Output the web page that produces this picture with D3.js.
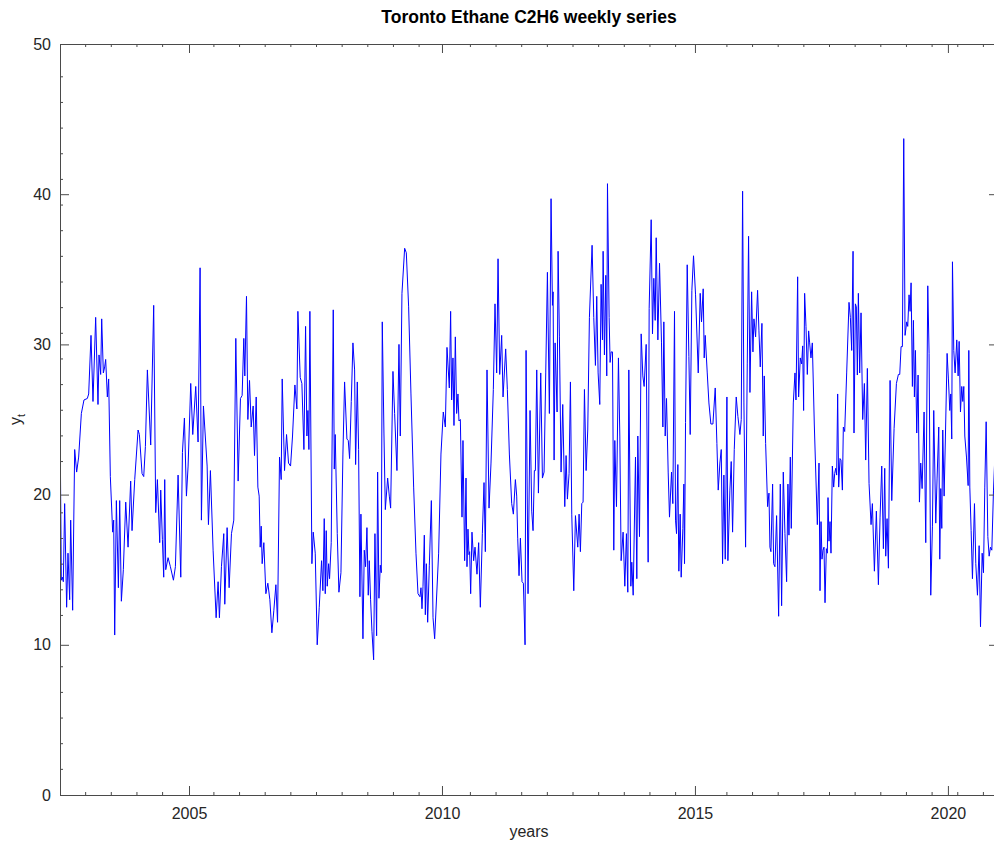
<!DOCTYPE html>
<meta charset="utf-8">
<script src="https://d3js.org/d3.v7.min.js"></script>
<style>
  body { margin: 0; background: #fff; }
  text { font-family: "Liberation Sans", Arial, sans-serif; fill: #262626; }
</style>
<div id="chart"></div>
<script>

// weekly series (decimal year, value)
var years = [
  2002.450, 2002.476, 2002.496, 2002.516, 2002.542, 2002.581, 2002.608, 2002.641, 2002.661, 2002.700,
  2002.740, 2002.779, 2002.819, 2002.872, 2002.924, 2002.990, 2003.017, 2003.063, 2003.102, 2003.155,
  2003.201, 2003.221, 2003.254, 2003.274, 2003.307, 2003.333, 2003.353, 2003.386, 2003.412, 2003.445,
  2003.491, 2003.511, 2003.531, 2003.564, 2003.604, 2003.630, 2003.663, 2003.702, 2003.749, 2003.795,
  2003.847, 2003.874, 2003.927, 2003.993, 2004.019, 2004.072, 2004.105, 2004.138, 2004.177, 2004.243,
  2004.302, 2004.342, 2004.375, 2004.421, 2004.441, 2004.474, 2004.500, 2004.520, 2004.540, 2004.586,
  2004.632, 2004.692, 2004.731, 2004.784, 2004.837, 2004.870, 2004.909, 2004.949, 2004.982, 2005.034,
  2005.074, 2005.133, 2005.179, 2005.219, 2005.245, 2005.285, 2005.358, 2005.384, 2005.423, 2005.476,
  2005.536, 2005.575, 2005.601, 2005.641, 2005.687, 2005.707, 2005.753, 2005.793, 2005.839, 2005.885,
  2005.925, 2005.971, 2006.017, 2006.050, 2006.083, 2006.103, 2006.136,
  2006.163, 2006.196, 2006.229, 2006.268, 2006.295, 2006.328, 2006.361, 2006.387, 2006.407, 2006.427,
  2006.446, 2006.479, 2006.519, 2006.558, 2006.598, 2006.638, 2006.677, 2006.717, 2006.750, 2006.789,
  2006.822, 2006.842, 2006.888, 2006.928, 2006.967, 2007.007, 2007.046, 2007.093, 2007.132, 2007.152,
  2007.198, 2007.231, 2007.271, 2007.304, 2007.330, 2007.350, 2007.370, 2007.389, 2007.429, 2007.455,
  2007.495, 2007.534, 2007.574, 2007.620, 2007.646, 2007.673, 2007.693, 2007.712, 2007.732, 2007.759,
  2007.778, 2007.811, 2007.851, 2007.871, 2007.890, 2007.930, 2007.963, 2008.003, 2008.042, 2008.075,
  2008.121, 2008.148, 2008.174, 2008.207, 2008.240, 2008.273, 2008.293, 2008.326, 2008.352, 2008.378,
  2008.398, 2008.438, 2008.464, 2008.490, 2008.517, 2008.543, 2008.563, 2008.589, 2008.616, 2008.649,
  2008.675, 2008.708, 2008.728, 2008.754, 2008.781, 2008.800, 2008.820, 2008.853, 2008.880, 2008.926,
  2008.959, 2008.985, 2009.031, 2009.064, 2009.110, 2009.150, 2009.176, 2009.209, 2009.262, 2009.295,
  2009.341, 2009.387, 2009.440, 2009.486, 2009.526, 2009.565, 2009.585, 2009.605, 2009.625, 2009.651,
  2009.671, 2009.691, 2009.717, 2009.750, 2009.790, 2009.823, 2009.855,
  2009.934, 2009.980, 2010.026, 2010.066, 2010.099, 2010.145, 2010.171, 2010.191, 2010.217, 2010.237,
  2010.264, 2010.290, 2010.316, 2010.336, 2010.363, 2010.396, 2010.415, 2010.448, 2010.475, 2010.494,
  2010.514, 2010.534, 2010.547, 2010.567, 2010.593, 2010.626, 2010.653, 2010.692, 2010.725, 2010.758,
  2010.798, 2010.831, 2010.857, 2010.890, 2010.930, 2010.969, 2011.015, 2011.048, 2011.081, 2011.108,
  2011.141, 2011.180, 2011.207, 2011.259, 2011.292, 2011.332, 2011.378, 2011.411, 2011.451, 2011.477,
  2011.497, 2011.523, 2011.550, 2011.582, 2011.609, 2011.642, 2011.662, 2011.701, 2011.741, 2011.774,
  2011.800, 2011.826, 2011.846, 2011.873, 2011.906, 2011.952, 2011.985, 2012.018, 2012.051, 2012.084,
  2012.123, 2012.156, 2012.183, 2012.196, 2012.216, 2012.236, 2012.275, 2012.295, 2012.321, 2012.354,
  2012.387, 2012.427, 2012.453, 2012.479, 2012.512, 2012.539, 2012.565, 2012.605, 2012.638, 2012.684,
  2012.710, 2012.736, 2012.763, 2012.789, 2012.816, 2012.849, 2012.881, 2012.914, 2012.967, 2013.000,
  2013.033, 2013.059, 2013.086, 2013.119, 2013.145, 2013.172, 2013.185, 2013.211, 2013.238, 2013.257,
  2013.271, 2013.304, 2013.323, 2013.343, 2013.370, 2013.396, 2013.416, 2013.449, 2013.488, 2013.515,
  2013.541, 2013.580, 2013.614, 2013.646, 2013.673,
  2013.693, 2013.733, 2013.752, 2013.779, 2013.825, 2013.851, 2013.871, 2013.904, 2013.937, 2013.970,
  2013.996, 2014.036, 2014.075, 2014.095, 2014.135, 2014.161, 2014.187, 2014.214, 2014.234, 2014.267,
  2014.300, 2014.339, 2014.366, 2014.385, 2014.412, 2014.438, 2014.471, 2014.497, 2014.537, 2014.563,
  2014.596, 2014.616, 2014.636, 2014.662, 2014.682, 2014.708, 2014.728, 2014.761, 2014.781, 2014.794,
  2014.814, 2014.847, 2014.880, 2014.906, 2014.939, 2014.972, 2015.012, 2015.065, 2015.104, 2015.130,
  2015.163, 2015.183, 2015.203, 2015.243, 2015.276, 2015.315, 2015.355, 2015.401, 2015.434, 2015.460,
  2015.493, 2015.520, 2015.546, 2015.572, 2015.599, 2015.632, 2015.651, 2015.691, 2015.717, 2015.744,
  2015.777, 2015.816, 2015.849, 2015.889, 2015.915, 2015.942, 2015.968, 2016.001, 2016.034, 2016.060,
  2016.087, 2016.120, 2016.146, 2016.166, 2016.199, 2016.238, 2016.265, 2016.291, 2016.324, 2016.350,
  2016.370, 2016.397, 2016.436, 2016.463, 2016.482, 2016.502, 2016.535, 2016.555, 2016.581, 2016.614,
  2016.654, 2016.687, 2016.713, 2016.746, 2016.779, 2016.812, 2016.838, 2016.858, 2016.885, 2016.904,
  2016.944, 2016.977, 2016.997, 2017.030, 2017.049, 2017.082, 2017.109, 2017.129, 2017.148, 2017.168,
  2017.195, 2017.221, 2017.247, 2017.267, 2017.293, 2017.320, 2017.359,
  2017.419, 2017.452, 2017.472, 2017.492, 2017.511, 2017.531, 2017.551, 2017.571, 2017.597, 2017.617,
  2017.630, 2017.650, 2017.670, 2017.689, 2017.716, 2017.742, 2017.762, 2017.782, 2017.801, 2017.821,
  2017.841, 2017.867, 2017.887, 2017.914, 2017.933, 2017.960, 2017.999, 2018.045, 2018.072, 2018.098,
  2018.125, 2018.144, 2018.171, 2018.190, 2018.210, 2018.230, 2018.256, 2018.283, 2018.316, 2018.349,
  2018.375, 2018.408, 2018.441, 2018.481, 2018.507, 2018.547, 2018.586, 2018.626, 2018.659, 2018.692,
  2018.725, 2018.751, 2018.771, 2018.797, 2018.824, 2018.857, 2018.890, 2018.936, 2018.982, 2019.021,
  2019.048, 2019.074, 2019.100, 2019.127, 2019.153, 2019.186, 2019.206, 2019.232, 2019.252, 2019.272,
  2019.298, 2019.318, 2019.338, 2019.358, 2019.384, 2019.410, 2019.437, 2019.463, 2019.490, 2019.529,
  2019.562, 2019.602, 2019.628, 2019.661, 2019.694, 2019.720, 2019.760, 2019.786, 2019.819, 2019.839,
  2019.859, 2019.879, 2019.898, 2019.925, 2019.951, 2019.984, 2020.010, 2020.037, 2020.057, 2020.076,
  2020.090, 2020.116, 2020.142, 2020.175, 2020.202, 2020.222, 2020.248, 2020.274, 2020.294, 2020.314,
  2020.334, 2020.367, 2020.400, 2020.413, 2020.433, 2020.459, 2020.485, 2020.525, 2020.551, 2020.584,
  2020.617, 2020.644, 2020.677, 2020.703, 2020.729, 2020.756, 2020.789, 2020.815, 2020.841, 2020.868,
  2020.901, 2020.930
];

var values = [
  25.6, 14.3, 14.5, 14.2, 19.4, 12.5, 16.1, 13.0, 18.3, 12.3,
  23.0, 21.5, 22.5, 25.4, 26.3, 26.4, 26.7, 30.6, 26.2, 31.8,
  26.0, 29.3, 28.0, 31.7, 28.1, 28.5, 29.0, 26.5, 27.7, 21.2,
  17.5, 18.3, 10.65, 19.6, 13.8, 19.6, 12.9, 15.0, 19.5, 16.5,
  20.9, 17.6, 21.0, 24.3, 24.0, 21.4, 21.2, 23.2, 28.3, 23.3,
  32.6, 18.8, 21.0, 16.8, 20.3, 17.0, 14.5, 21.0, 15.0, 15.8,
  15.2, 14.3, 15.2, 21.3, 14.5, 22.8, 25.1, 19.9, 21.9, 27.4,
  24.0, 27.2, 23.5, 35.1, 18.3, 25.9, 21.9, 18.0, 21.6, 16.3,
  11.8, 14.2, 11.8, 15.2, 17.4, 12.7, 17.8, 13.8, 17.4, 18.3,
  30.4, 20.9, 26.4, 26.6, 30.4, 27.9, 33.2,
  25.0, 27.6, 24.5, 25.9, 22.6, 26.5, 20.5, 19.9, 16.5, 17.9,
  15.4, 16.8, 13.4, 14.1, 13.0, 10.8, 12.3, 14.0, 11.5, 22.5,
  21.0, 27.7, 21.6, 24.0, 22.1, 21.9, 23.9, 27.3, 25.7, 32.2,
  27.8, 27.4, 23.0, 31.2, 23.9, 25.6, 23.0, 32.2, 15.4, 17.5,
  16.1, 10.0, 12.5, 15.6, 13.6, 18.4, 13.4, 17.6, 13.9, 15.4,
  14.4, 16.8, 32.3, 21.7, 24.0, 17.4, 13.5, 14.8, 22.7, 27.5,
  23.7, 23.6, 22.4, 26.2, 30.1, 28.3, 22.0, 27.5, 23.0, 13.2,
  18.7, 10.4, 16.3, 15.2, 17.8, 13.3, 15.6, 13.0, 10.9, 9.0,
  17.4, 10.6, 21.5, 13.1, 15.3, 14.8, 31.5, 24.1, 19.0, 21.1,
  19.9, 19.1, 28.2, 25.4, 21.6, 30.0, 23.9, 33.4, 36.4, 36.1,
  32.5, 26.7, 20.5, 16.1, 13.4, 13.2, 13.8, 12.4, 13.9, 17.3,
  12.0, 15.4, 11.5, 15.3, 19.6, 11.8, 10.4,
  16.1, 22.7, 25.5, 24.5, 29.8, 27.1, 32.2, 26.3, 29.1, 24.6,
  30.5, 25.4, 26.7, 24.9, 25.0, 18.5, 23.6, 15.6, 21.1, 15.2,
  17.7, 16.0, 16.2, 13.4, 17.5, 15.6, 16.5, 14.7, 16.8, 12.5,
  17.4, 20.8, 16.2, 28.3, 19.1, 22.1, 27.0, 32.7, 28.1, 35.7,
  28.0, 30.6, 26.5, 29.7, 27.0, 22.7, 19.4, 18.7, 21.0, 19.9,
  17.1, 14.6, 17.1, 14.2, 14.1, 10.0, 29.6, 13.4, 25.6, 18.9,
  17.6, 21.6, 21.6, 28.3, 20.1, 28.1, 21.1, 21.5, 28.1, 34.8,
  25.4, 39.7, 32.6, 33.5, 22.3, 30.1, 25.5, 36.2, 30.5, 21.5,
  26.0, 19.2, 22.6, 19.7, 21.4, 27.5, 18.7, 13.6, 18.6, 16.5,
  18.7, 16.2, 19.4, 19.5, 27.0, 21.6, 24.3, 31.8, 36.6, 31.8,
  28.6, 33.2, 28.1, 26.0, 34.0, 30.3, 36.2, 29.3, 34.6, 27.9,
  40.7, 31.8, 28.8, 29.5, 29.5, 16.3, 23.6, 19.2, 29.1, 23.9,
  15.6, 17.5, 13.9, 17.4, 13.5,
  28.3, 13.9, 15.5, 13.3, 22.5, 14.4, 23.9, 17.2, 30.7, 27.9,
  27.2, 30.0, 15.5, 32.4, 38.3, 30.7, 34.4, 31.6, 37.1, 30.3,
  35.4, 30.1, 24.5, 31.5, 23.9, 26.4, 21.5, 18.5, 21.5, 19.4,
  32.2, 18.3, 17.4, 22.0, 14.9, 18.7, 14.5, 17.75, 20.7, 15.4,
  24.8, 35.3, 29.2, 24.0, 33.6, 35.9, 33.3, 28.1, 33.4, 31.5,
  33.7, 29.1, 30.6, 28.1, 26.1, 24.7, 24.7, 27.1, 23.4, 20.3,
  22.1, 23.0, 15.4, 21.3, 15.7, 26.5, 15.6, 20.3, 22.2, 17.5,
  23.0, 26.5, 25.2, 24.0, 25.0, 40.2, 26.1, 16.5, 28.7, 37.2,
  26.8, 33.5, 29.5, 31.7, 30.5, 33.6, 30.9, 28.5, 31.4, 23.9,
  27.9, 23.4, 19.2, 20.1, 16.5, 16.2, 20.7, 15.4, 15.2, 18.6,
  11.9, 20.7, 12.6, 21.5, 17.4, 14.2, 20.7, 17.3, 22.5, 17.75,
  26.1, 28.1, 26.3, 34.5, 26.5, 29.1, 28.7, 29.9, 25.6, 33.4,
  31.2, 28.0, 30.9, 30.1, 29.1, 30.1, 24.7,
  18.0, 22.1, 13.6, 18.2, 15.7, 16.3, 16.5, 12.8, 16.4, 16.1,
  19.8, 16.9, 18.2, 16.1, 21.9, 20.5, 21.4, 21.75, 21.3, 26.7,
  20.5, 22.4, 22.3, 20.3, 24.5, 24.2, 28.1, 32.8, 31.8, 29.6,
  36.2, 24.1, 32.7, 32.5, 27.96, 33.4, 28.1, 32.1, 25.0, 27.4,
  22.3, 28.4, 20.75, 18.0, 19.4, 14.9, 18.9, 14.0, 18.5, 21.9,
  16.4, 21.75, 15.9, 18.4, 15.1, 27.6, 19.6, 24.4, 27.4, 28.0,
  28.0, 29.85, 29.85, 43.7, 30.6, 31.5, 31.2, 33.3, 32.2, 34.1,
  27.2, 31.6, 26.5, 29.6, 24.1, 27.96, 19.5, 22.1, 20.4, 25.5,
  16.8, 33.9, 29.4, 13.3, 17.9, 25.6, 18.1, 21.1, 24.5, 15.7,
  20.4, 17.75, 24.3, 19.9, 23.9, 29.4, 27.7, 25.6, 26.7, 23.7,
  35.5, 29.6, 28.1, 30.3, 27.9, 30.2, 25.5, 27.2, 26.2, 27.2,
  23.9, 22.5, 20.6, 29.6, 20.5, 17.6, 14.4, 19.4, 15.4, 13.3,
  16.6, 11.2, 16.1, 14.8, 20.5, 24.85, 17.2, 15.9, 16.5, 16.3,
  20.3, 22.7
];

var xTicks = [2005, 2010, 2015, 2020];
var yTicks = [0, 10, 20, 30, 40, 50];

var width = 994, height = 847;
var plotLeft = 60, plotTop = 44, plotRight = 998, plotBottom = 795;

var svg = d3.select("#chart")
  .append("svg")
  .attr("width", width)
  .attr("height", height)
  .style("display", "block");

svg.append("rect").attr("width", width).attr("height", height).attr("fill", "#fff");

var x = d3.scaleLinear().domain([2002.45, 2020.99]).range([plotLeft, plotRight]);
var y = d3.scaleLinear().domain([0, 50]).range([plotBottom, plotTop]);

// clip for the series
svg.append("clipPath").attr("id", "plotclip")
  .append("rect")
  .attr("x", plotLeft).attr("y", plotTop)
  .attr("width", plotRight - plotLeft).attr("height", plotBottom - plotTop);

var series = d3.zip(years, values);
var line = d3.line().x(d => x(d[0])).y(d => y(d[1]));

svg.append("path")
  .datum(series)
  .attr("clip-path", "url(#plotclip)")
  .attr("fill", "none")
  .attr("stroke", "#0000ff")
  .attr("stroke-width", 1)
  .attr("stroke-linejoin", "round")
  .attr("d", line);

// axes, ticks pointing inward
var axisColor = "#4a4a4a";

function styleAxis(g) {
  g.select(".domain").remove();
  g.selectAll(".tick line").attr("stroke", axisColor);
  g.selectAll(".tick text")
    .attr("fill", "#262626")
    .style("font-size", "16px")
    .style("font-family", "'Liberation Sans', Arial, sans-serif");
}

svg.append("g")
  .attr("transform", "translate(0," + plotBottom + ")")
  .call(d3.axisBottom(x).tickValues(xTicks).tickFormat(d3.format("d"))
    .tickSizeInner(-9).tickSizeOuter(0).tickPadding(13))
  .call(styleAxis);

svg.append("g")
  .attr("transform", "translate(0," + plotTop + ")")
  .call(d3.axisTop(x).tickValues(xTicks).tickFormat("")
    .tickSizeInner(-9).tickSizeOuter(0))
  .call(styleAxis);

svg.append("g")
  .attr("transform", "translate(" + plotLeft + ",0)")
  .call(d3.axisLeft(y).tickValues(yTicks)
    .tickSizeInner(-9).tickSizeOuter(0).tickPadding(9))
  .call(styleAxis);

svg.append("g")
  .attr("transform", "translate(" + plotRight + ",0)")
  .call(d3.axisRight(y).tickValues(yTicks).tickFormat("")
    .tickSizeInner(-9).tickSizeOuter(0))
  .call(styleAxis);

// minor ticks, evenly spaced from the lower left corner
var minorStep = 25.65, minorLen = 3;
var minor = svg.append("g").attr("stroke", axisColor).attr("stroke-width", 1);

for (var px = plotLeft + minorStep; px < plotRight; px += minorStep) {
  if (xTicks.some(t => Math.abs(x(t) - px) < 8)) continue;
  minor.append("line").attr("x1", px).attr("x2", px).attr("y1", plotBottom).attr("y2", plotBottom - minorLen);
  minor.append("line").attr("x1", px).attr("x2", px).attr("y1", plotTop).attr("y2", plotTop + minorLen);
}
for (var py = plotBottom - minorStep; py > plotTop; py -= minorStep) {
  if (yTicks.some(t => Math.abs(y(t) - py) < 8)) continue;
  minor.append("line").attr("x1", plotLeft).attr("x2", plotLeft + minorLen).attr("y1", py).attr("y2", py);
  minor.append("line").attr("x1", plotRight).attr("x2", plotRight - minorLen).attr("y1", py).attr("y2", py);
}

// box
svg.append("rect")
  .attr("x", plotLeft + 0.5).attr("y", plotTop + 0.5)
  .attr("width", plotRight - plotLeft).attr("height", plotBottom - plotTop)
  .attr("fill", "none")
  .attr("stroke", axisColor)
  .attr("stroke-width", 1);

// labels
svg.append("text")
  .attr("x", (plotLeft + plotRight) / 2)
  .attr("y", 23)
  .attr("text-anchor", "middle")
  .style("font-size", "17.5px")
  .style("font-weight", "bold")
  .style("fill", "#000")
  .text("Toronto Ethane C2H6 weekly series");

svg.append("text")
  .attr("x", (plotLeft + plotRight) / 2)
  .attr("y", 837)
  .attr("text-anchor", "middle")
  .style("font-size", "16px")
  .text("years");

var ylab = svg.append("text")
  .attr("transform", "translate(21," + ((plotTop + plotBottom) / 2) + ") rotate(-90)")
  .attr("text-anchor", "middle")
  .style("font-size", "16px");
ylab.append("tspan").text("y");
ylab.append("tspan").attr("dy", 4).style("font-size", "11px").text("t");

</script>
